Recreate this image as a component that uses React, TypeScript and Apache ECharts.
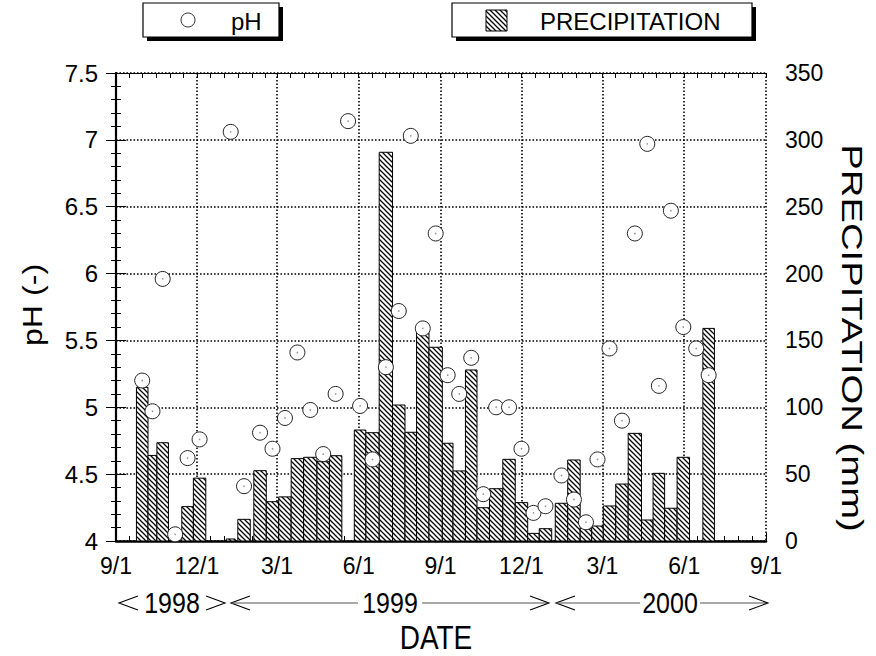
import React, { useEffect, useRef } from "react";
import * as echarts from "echarts";

// ---- Data ----
// Sampling periods: start and end dates of each precipitation collection interval
const periodStart = [
  "1998-09-24", "1998-10-07", "1998-10-17", "1998-10-30", "1998-11-14", "1998-11-27",
  "1999-01-03", "1999-01-16", "1999-02-03", "1999-02-17", "1999-03-03", "1999-03-17",
  "1999-03-31", "1999-04-15", "1999-04-29", "1999-05-13", "1999-05-27", "1999-06-09",
  "1999-06-24", "1999-07-09", "1999-07-23", "1999-08-05", "1999-08-19", "1999-09-03",
  "1999-09-15", "1999-09-29", "1999-10-12", "1999-10-26", "1999-11-10", "1999-11-24",
  "1999-12-08", "1999-12-21", "2000-01-08", "2000-01-22", "2000-02-05", "2000-02-18",
  "2000-03-02", "2000-03-16", "2000-03-30", "2000-04-14", "2000-04-27", "2000-05-10",
  "2000-05-24", "2000-06-07", "2000-06-22",
];
const periodEnd = [
  "1998-10-07", "1998-10-17", "1998-10-30", "1998-11-14", "1998-11-27", "1998-12-11",
  "1999-01-13", "1999-01-30", "1999-02-17", "1999-03-03", "1999-03-17", "1999-03-31",
  "1999-04-15", "1999-04-29", "1999-05-13", "1999-05-27", "1999-06-09", "1999-06-24",
  "1999-07-09", "1999-07-23", "1999-08-05", "1999-08-19", "1999-09-03", "1999-09-15",
  "1999-09-29", "1999-10-12", "1999-10-26", "1999-11-10", "1999-11-24", "1999-12-08",
  "1999-12-21", "2000-01-04", "2000-01-22", "2000-02-05", "2000-02-18", "2000-03-02",
  "2000-03-16", "2000-03-30", "2000-04-14", "2000-04-27", "2000-05-10", "2000-05-24",
  "2000-06-07", "2000-06-22", "2000-07-05",
];
// Precipitation (mm) per period
const precipitation = [
  115, 64, 73.5, 0, 25.7, 47,
  1.5, 16.2, 52.6, 29.4, 33, 61.6,
  62.6, 59.3, 63.8, 0, 83, 81,
  290.7, 101.7, 81.3, 155.8, 144.9, 73.1,
  52.4, 127.9, 24.9, 39.1, 61.1, 28.7,
  5.7, 9.2, 28.2, 60.6, 9.5, 11.2,
  26.2, 42.6, 80.5, 15.7, 50.6, 24.5,
  62.6, 0, 159,
];
// pH per period
const phValues = [
  5.2, 4.97, 5.96, 4.05, 4.62, 4.76,
  7.06, 4.41, 4.81, 4.69, 4.92, 5.41,
  4.98, 4.65, 5.1, 7.14, 5.01, 4.61,
  5.3, 5.72, 7.03, 5.59, 6.3, 5.24,
  5.1, 5.37, 4.35, 5.0, 5.0, 4.69,
  4.21, 4.26, 4.49, 4.31, 4.14, 4.61,
  5.44, 4.9, 6.3, 6.97, 5.16, 6.47,
  5.6, 5.44, 5.24,
];
const xTickDates = [
  "1998-09-01", "1998-12-01", "1999-03-01", "1999-06-01", "1999-09-01",
  "1999-12-01", "2000-03-01", "2000-06-01", "2000-09-01",
];
const xTickLabels = ["9/1", "12/1", "3/1", "6/1", "9/1", "12/1", "3/1", "6/1", "9/1"];
const yearLabels = ["1998", "1999", "2000"];

const FONT = "'Liberation Sans', Arial, Helvetica, sans-serif";
const DAY0 = Date.UTC(1998, 8, 1);
const toDay = (s: string) => (Date.parse(s + "T00:00:00Z") - DAY0) / 86400000;

const hatchSvg =
  "<svg xmlns='http://www.w3.org/2000/svg' width='5' height='5'>" +
  "<rect width='5' height='5' fill='white'/>" +
  "<path d='M-1,-1 L6,6 M-1,4 L1,6 M4,-1 L6,1' stroke='black' stroke-width='1.25'/></svg>";
const hatch: any = {
  image: "data:image/svg+xml;base64," + btoa(hatchSvg),
  repeat: "repeat",
  imageWidth: 5,
  imageHeight: 5,
};

export default function App() {
  const ref = useRef<HTMLDivElement>(null);
  useEffect(() => {
    if (!ref.current) return;
    const chart = echarts.init(ref.current, null, { renderer: "svg" });
    const xMin = toDay(xTickDates[0]);
    const xMax = toDay(xTickDates[xTickDates.length - 1]);
    const majorX = xTickDates.map(toDay);
    // half-month minor tick positions (1st and 16th of each month)
    const minorX: number[] = [];
    for (let y = 1998; y <= 2000; y++) {
      for (let m = 0; m < 12; m++) {
        for (const d of [1, 16]) {
          const v = (Date.UTC(y, m, d) - DAY0) / 86400000;
          if (v >= xMin && v <= xMax) minorX.push(v);
        }
      }
    }
    const barData = periodStart.map((s, i) => [toDay(s), toDay(periodEnd[i]), precipitation[i]]);
    const phData = periodStart.map((s, i) => [(toDay(s) + toDay(periodEnd[i])) / 2, phValues[i]]);

    const dotted = { color: "#000", width: 1.6, type: [1.6, 1.9] as any };
    const chevron = (tipX: number, dir: number, y: number) => ({
      type: "polyline",
      shape: { points: [[tipX + dir * 19, y - 7], [tipX, y], [tipX + dir * 19, y + 7]] },
      style: { stroke: "#000", lineWidth: 1.1, fill: "none" },
    });
    const hline = (x1: number, x2: number, y: number) => ({
      type: "line",
      shape: { x1, y1: y, x2, y2: y },
      style: { stroke: "#555", lineWidth: 1 },
    });
    const yrY = 603;
    const centered = { fontFamily: FONT, fill: "#000", align: "center", verticalAlign: "middle" };

    const option: any = {
      animation: false,
      textStyle: { fontFamily: FONT, color: "#000" },
      grid: { left: 116, right: 110, top: 73, bottom: 115, containLabel: false, outerBoundsMode: "none" },
      xAxis: [
        {
          type: "value",
          min: xMin,
          max: xMax,
          position: "bottom",
          axisLine: { show: true, lineStyle: { color: "#000", width: 2.5 } },
          axisTick: { show: true, inside: true, length: 8, customValues: majorX, lineStyle: { color: "#000" } },
          axisLabel: {
            customValues: majorX,
            fontSize: 23,
            color: "#000",
            margin: 13,
            fontFamily: FONT,
            formatter: (v: number) => {
              const i = majorX.findIndex((t) => Math.abs(t - v) < 0.01);
              return i >= 0 ? xTickLabels[i] : "";
            },
          },
          splitLine: { show: true, lineStyle: dotted },
        },
        {
          type: "value",
          min: xMin,
          max: xMax,
          position: "top",
          axisLine: { show: true, lineStyle: { color: "#000", width: 1.2 } },
          axisTick: { show: true, inside: true, length: 5, customValues: minorX, lineStyle: { color: "#000" } },
          axisLabel: { show: false },
          splitLine: { show: false },
        },
        {
          type: "value",
          min: xMin,
          max: xMax,
          position: "bottom",
          axisLine: { show: false },
          axisTick: { show: true, inside: true, length: 5, customValues: minorX, lineStyle: { color: "#000" } },
          axisLabel: { show: false },
          splitLine: { show: false },
        },
      ],
      yAxis: [
        {
          type: "value",
          min: 4,
          max: 7.5,
          interval: 0.5,
          position: "left",
          axisLine: { show: true, lineStyle: { color: "#000", width: 1.5 } },
          axisTick: { show: true, inside: true, length: 10, lineStyle: { color: "#000" } },
          minorTick: { show: true, splitNumber: 5, length: 5, lineStyle: { color: "#000" } },
          axisLabel: { fontSize: 24, color: "#000", margin: 18, fontFamily: FONT, formatter: (v: number) => String(v) },
          splitLine: { show: true, lineStyle: dotted },
        },
        {
          type: "value",
          min: 0,
          max: 350,
          interval: 50,
          position: "right",
          axisLine: { show: true, lineStyle: { color: "#000", width: 2.2 } },
          axisTick: { show: true, inside: true, length: 10, lineStyle: { color: "#000" } },
          minorTick: { show: true, splitNumber: 5, length: 5, lineStyle: { color: "#000" } },
          axisLabel: { fontSize: 23, color: "#000", margin: 19, fontFamily: FONT },
          splitLine: { show: false },
        },
      ],
      series: [
        {
          name: "PRECIPITATION",
          type: "custom",
          xAxisIndex: 0,
          yAxisIndex: 1,
          encode: { x: [0, 1], y: 2 },
          data: barData,
          z: 2,
          renderItem: (params: any, api: any) => {
            const v = api.value(2);
            if (!v) return { type: "group", children: [] };
            const p0 = api.coord([api.value(0), 0]);
            const p1 = api.coord([api.value(1), v]);
            return {
              type: "rect",
              shape: { x: p0[0], y: p1[1], width: p1[0] - p0[0], height: p0[1] - p1[1] },
              style: { fill: hatch, stroke: "#000", lineWidth: 1 },
            };
          },
        },
        {
          name: "pH",
          type: "scatter",
          xAxisIndex: 0,
          yAxisIndex: 0,
          data: phData,
          symbol: "circle",
          symbolSize: 15,
          z: 5,
          itemStyle: { color: "#fff", borderColor: "#222", borderWidth: 1, opacity: 1 },
        },
        {
          name: "pH-dot",
          type: "scatter",
          xAxisIndex: 0,
          yAxisIndex: 0,
          data: phData,
          symbol: "circle",
          symbolSize: 1.6,
          silent: true,
          z: 6,
          itemStyle: { color: "#777" },
        },
      ],
      graphic: {
        elements: [
          // pH legend box
          { type: "rect", shape: { x: 147, y: 7, width: 136, height: 34 }, style: { fill: "#000" } },
          { type: "rect", shape: { x: 143, y: 3, width: 136, height: 34 }, style: { fill: "#fff", stroke: "#000", lineWidth: 1.2 } },
          { type: "circle", shape: { cx: 188, cy: 20, r: 7 }, style: { fill: "#fff", stroke: "#333", lineWidth: 1 } },
          { type: "text", x: 231, y: 21, style: { text: "pH", fontSize: 24, fontFamily: FONT, fill: "#000", align: "left", verticalAlign: "middle" } },
          // precipitation legend box
          { type: "rect", shape: { x: 456, y: 7, width: 300, height: 34 }, style: { fill: "#000" } },
          { type: "rect", shape: { x: 452, y: 3, width: 300, height: 34 }, style: { fill: "#fff", stroke: "#000", lineWidth: 1.2 } },
          { type: "rect", shape: { x: 486, y: 10, width: 21, height: 21 }, style: { fill: hatch, stroke: "#000", lineWidth: 1 } },
          { type: "text", x: 540, y: 21, style: { text: "PRECIPITATION", fontSize: 24, fontFamily: FONT, fill: "#000", align: "left", verticalAlign: "middle" } },
          // axis titles
          { type: "text", x: 32, y: 305, rotation: Math.PI / 2, scaleX: 1.15, style: { text: "pH (-)", fontSize: 28, ...centered } },
          { type: "text", x: 852, y: 338, rotation: -Math.PI / 2, scaleX: 1.32, style: { text: "PRECIPITATION (mm)", fontSize: 29, ...centered } },
          { type: "text", x: 436, y: 637, scaleY: 1.18, style: { text: "DATE", fontSize: 28, ...centered } },
          // year arrows
          chevron(119, 1, yrY),
          { type: "text", x: 172, y: yrY, scaleY: 1.15, style: { text: yearLabels[0], fontSize: 25, ...centered } },
          chevron(225, -1, yrY),
          chevron(231, 1, yrY),
          hline(232, 358, yrY),
          { type: "text", x: 390, y: yrY, scaleY: 1.15, style: { text: yearLabels[1], fontSize: 25, ...centered } },
          hline(422, 548, yrY),
          chevron(549, -1, yrY),
          chevron(556, 1, yrY),
          hline(557, 640, yrY),
          { type: "text", x: 670, y: yrY, scaleY: 1.15, style: { text: yearLabels[2], fontSize: 25, ...centered } },
          hline(700, 767, yrY),
          chevron(768, -1, yrY),
        ],
      },
    };
    chart.setOption(option);
    return () => chart.dispose();
  }, []);
  return (
    <div
      ref={ref}
      style={{ position: "fixed", left: 0, top: 0, width: 876, height: 656, background: "#fff" }}
    />
  );
}
